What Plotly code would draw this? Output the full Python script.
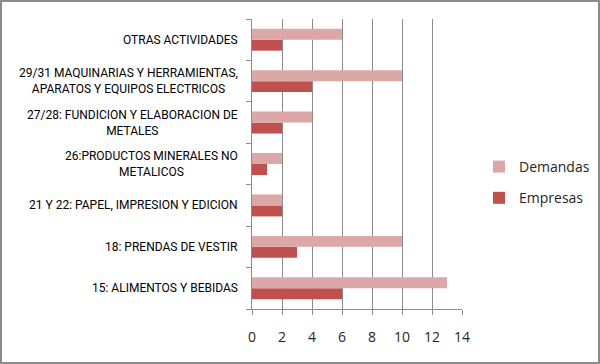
import plotly.graph_objects as go

categories = [
    "15: ALIMENTOS Y BEBIDAS",
    "18: PRENDAS DE VESTIR",
    "21 Y 22: PAPEL, IMPRESION Y EDICION",
    "26:PRODUCTOS MINERALES NO<br>METALICOS",
    "27/28: FUNDICION Y ELABORACION DE<br>METALES",
    "29/31 MAQUINARIAS Y HERRAMIENTAS,<br>APARATOS Y EQUIPOS ELECTRICOS",
    "OTRAS ACTIVIDADES",
]
empresas = [6, 3, 2, 1, 2, 4, 2]
demandas = [13, 10, 2, 2, 4, 10, 6]
x_ticks = [0, 2, 4, 6, 8, 10, 12, 14]

W, H = 600, 364
ml, mr, mt, mb = 252, 138, 19, 55

fig = go.Figure()
fig.add_trace(go.Bar(y=categories, x=empresas, name="Empresas", orientation="h",
                     marker=dict(color="#C0504D", line=dict(width=0)),
                     legendgroup="e", legendrank=2))
fig.add_trace(go.Bar(y=categories, x=demandas, name="Demandas", orientation="h",
                     marker=dict(color="#DBA8A7", line=dict(width=0)),
                     legendgroup="d", legendrank=1))

for c in categories:
    fig.add_annotation(x=0, y=c, xref="x", yref="y", text=c, showarrow=False,
                       xanchor="right", yanchor="middle", align="center", xshift=-12,
                       font=dict(family="Roboto, sans-serif", size=12, color="#000000"))

pw = W - ml - mr
ph = H - mt - mb
fig.add_shape(type="rect", xref="paper", yref="paper",
              x0=-(ml - 1) / pw, x1=1 + (mr - 1) / pw,
              y0=-(mb - 1) / ph, y1=1 + (mt - 1) / ph,
              line=dict(color="#8c8c8c", width=2))

fig.update_layout(
    width=W, height=H,
    margin=dict(l=ml, r=mr, t=mt, b=mb, autoexpand=False),
    barmode="group", bargap=0.47, bargroupgap=0,
    plot_bgcolor="white", paper_bgcolor="white",
    showlegend=True,
    legend=dict(x=(479 - ml) / pw, xanchor="left", xref="paper",
                y=1 - (182.5 - mt) / ph, yanchor="middle",
                traceorder="grouped", tracegroupgap=10,
                font=dict(family="Open Sans, sans-serif", size=14, color="#262626")),
    xaxis=dict(range=[0, 14], tickvals=x_ticks, showgrid=True, gridcolor="#8c8c8c", gridwidth=1,
               showline=True, linecolor="#8c8c8c", ticks="outside", ticklen=5, tickcolor="#8c8c8c",
               tickfont=dict(family="Open Sans, sans-serif", size=14, color="#262626"),
               zeroline=False, fixedrange=True, ticklabelstandoff=10, automargin=False),
    yaxis=dict(showticklabels=False, ticks="outside", tickson="boundaries", ticklen=5,
               tickcolor="#8c8c8c", showline=True, linecolor="#8c8c8c", showgrid=False,
               categoryorder="array", categoryarray=categories, fixedrange=True, automargin=False),
)

fig.write_html("out.html", config={"displayModeBar": False},
               post_script="document.body.style.margin='0';document.body.style.overflow='hidden';")
